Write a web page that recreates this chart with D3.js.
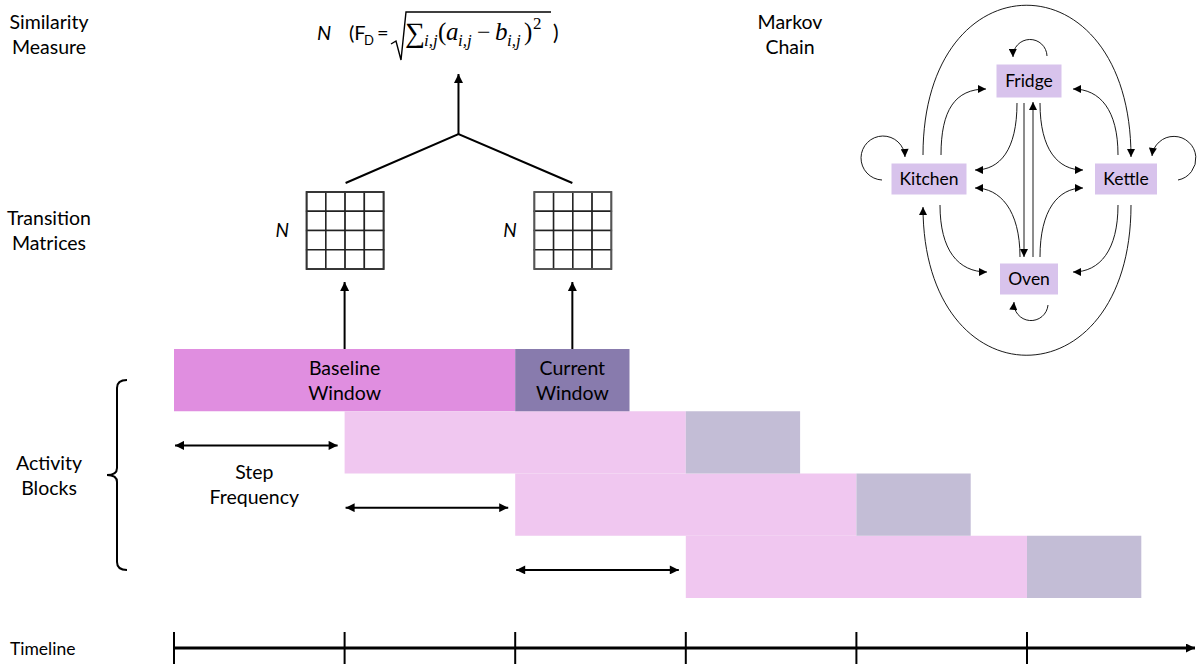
<!DOCTYPE html>
<html>
<head>
<meta charset="utf-8">
<script src="https://cdn.jsdelivr.net/npm/d3@7"></script>
<style>
  body { margin: 0; background: #fff; }
  text { font-family: Lato, "Open Sans", sans-serif; fill: #000; }
</style>
</head>
<body>
<div id="chart"></div>
<script>
// ---- data ----
const timelineSteps = [0, 1, 2, 3, 4, 5];
const blockRows = [0, 1, 2, 3];          // row i starts at step i
const baselineSpan = 2;                   // steps
const currentSpan = 0.67;                 // steps
const stepArrowRows = [1, 2, 3];
const sideLabels = [
  { lines: ["Similarity", "Measure"], y: 29 },
  { lines: ["Transition", "Matrices"], y: 225 },
  { lines: ["Activity", "Blocks"], y: 470 }
];
const matrixCells = 4;
const states = ["Fridge", "Kitchen", "Kettle", "Oven"];
const transitions = [
  ["Fridge", "Fridge"], ["Kitchen", "Kitchen"], ["Kettle", "Kettle"], ["Oven", "Oven"],
  ["Kitchen", "Fridge"], ["Kettle", "Fridge"], ["Fridge", "Kitchen"], ["Fridge", "Kettle"],
  ["Oven", "Kitchen"], ["Oven", "Kettle"], ["Kitchen", "Oven"], ["Kettle", "Oven"],
  ["Fridge", "Oven"], ["Oven", "Fridge"], ["Kitchen", "Kettle"], ["Kettle", "Kitchen"]
];

const width = 1199, height = 664;
const svg = d3.select("#chart").append("svg")
    .attr("width", width)
    .attr("height", height);

// arrow heads
const defs = svg.append("defs");
defs.append("marker").attr("id", "head")
    .attr("markerUnits", "userSpaceOnUse")
    .attr("viewBox", "0 0 10 10").attr("refX", 10).attr("refY", 5)
    .attr("markerWidth", 10).attr("markerHeight", 9).attr("orient", "auto-start-reverse")
  .append("path").attr("d", "M0,0 L10,5 L0,10 Z").attr("fill", "#000");
defs.append("marker").attr("id", "small")
    .attr("markerUnits", "userSpaceOnUse")
    .attr("viewBox", "0 0 10 10").attr("refX", 10).attr("refY", 5)
    .attr("markerWidth", 9).attr("markerHeight", 8).attr("orient", "auto")
  .append("path").attr("d", "M0,0 L10,5 L0,10 Z").attr("fill", "#000");

// scales
const x = d3.scaleLinear().domain([0, 5]).range([174, 1027]);
const row = d3.scaleBand().domain(blockRows).range([349, 598]);

// side labels
sideLabels.forEach(d => {
  svg.append("text").attr("text-anchor", "middle").attr("font-size", 19.5)
    .selectAll("tspan").data(d.lines).join("tspan")
      .attr("x", 49).attr("y", (l, i) => d.y + i * 25).text(l => l);
});
svg.append("text").attr("text-anchor", "middle").attr("font-size", 19.5)
  .selectAll("tspan").data(["Markov", "Chain"]).join("tspan")
    .attr("x", 790).attr("y", (l, i) => 29 + i * 25).text(l => l);
svg.append("text").attr("x", 10).attr("y", 655).attr("font-size", 17.5).text("Timeline");

// ---- activity blocks ----
const blocks = svg.append("g");
blocks.selectAll("rect.base").data(blockRows).join("rect")
    .attr("class", "base")
    .attr("x", d => x(d)).attr("y", d => row(d))
    .attr("width", x(baselineSpan) - x(0)).attr("height", row.bandwidth())
    .attr("fill", d => d === 0 ? "#e08ee0" : "#f0c7f0");
blocks.selectAll("rect.cur").data(blockRows).join("rect")
    .attr("class", "cur")
    .attr("x", d => x(d + baselineSpan)).attr("y", d => row(d))
    .attr("width", x(currentSpan) - x(0)).attr("height", row.bandwidth())
    .attr("fill", d => d === 0 ? "#887bad" : "#c3bdd6");

const first = row(0) + row.bandwidth() / 2;
[["Baseline", "Window", x(1)], ["Current", "Window", x(baselineSpan) + (x(currentSpan) - x(0)) / 2]].forEach(t => {
  svg.append("text").attr("text-anchor", "middle").attr("font-size", 19.5)
    .selectAll("tspan").data([t[0], t[1]]).join("tspan")
      .attr("x", t[2]).attr("y", (l, i) => first - 5 + i * 25).text(l => l);
});

// step frequency arrows
svg.selectAll("line.step").data(stepArrowRows).join("line")
    .attr("class", "step")
    .attr("x1", d => x(d - 1) + 1).attr("x2", d => x(d) - 7)
    .attr("y1", d => row(d) + row.bandwidth() / 2 + 3)
    .attr("y2", d => row(d) + row.bandwidth() / 2 + 3)
    .attr("stroke", "#000").attr("stroke-width", 2)
    .attr("marker-start", "url(#head)").attr("marker-end", "url(#head)");
svg.append("text").attr("text-anchor", "middle").attr("font-size", 19.5)
  .selectAll("tspan").data(["Step", "Frequency"]).join("tspan")
    .attr("x", (x(0) + x(1)) / 2 - 5).attr("y", (l, i) => 479 + i * 25).text(l => l);

// brace
svg.append("path")
    .attr("d", "M127,380 Q117,380 117,388 L117,468 Q117,475 107,475 Q117,475 117,482 L117,562 Q117,570 127,570")
    .attr("fill", "none").attr("stroke", "#000").attr("stroke-width", 2);

// ---- transition matrices ----
const matX = [x(1), x(baselineSpan) + (x(currentSpan) - x(0)) / 2];
const cell = d3.scaleBand().domain(d3.range(matrixCells)).range([0, 77]);
matX.forEach((cx, k) => {
  const g = svg.append("g").attr("transform", `translate(${cx - 38},192)`);
  g.selectAll("rect").data(d3.cross(d3.range(matrixCells), d3.range(matrixCells))).join("rect")
      .attr("x", d => cell(d[0])).attr("y", d => cell(d[1]))
      .attr("width", cell.bandwidth()).attr("height", cell.bandwidth())
      .attr("fill", "#fff").attr("stroke", "#222").attr("stroke-width", 1.5);
  g.append("rect").attr("width", 77).attr("height", 77)
      .attr("fill", "none").attr("stroke", k ? "#555" : "#333").attr("stroke-width", 1.8);
  svg.append("text").attr("x", cx - 69).attr("y", 237).attr("font-size", 19)
      .attr("font-style", "italic").text("N");
  // arrow up from block
  svg.append("line").attr("x1", cx).attr("x2", cx).attr("y1", row(0)).attr("y2", 282)
      .attr("stroke", "#000").attr("stroke-width", 2).attr("marker-end", "url(#head)");
});

// join to similarity measure
const joinX = (matX[0] + matX[1]) / 2;
svg.append("path")
    .attr("d", `M${matX[0] + 1},183 L${joinX},134 L${matX[1]},183`)
    .attr("fill", "none").attr("stroke", "#000").attr("stroke-width", 2);
svg.append("line").attr("x1", joinX).attr("x2", joinX).attr("y1", 134).attr("y2", 74)
    .attr("stroke", "#000").attr("stroke-width", 2).attr("marker-end", "url(#head)");

// formula  N  (F_D = sqrt(sum_{i,j}(a_{i,j} - b_{i,j})^2))
const f = svg.append("g");
const serif = "'Liberation Serif', 'DejaVu Serif', serif";
const pieces = [
  { t: "N", x: 317, y: 40, s: 20, it: true },
  { t: "(F", x: 349, y: 40, s: 20 },
  { t: "D", x: 364, y: 45, s: 13 },
  { t: "=", x: 377, y: 40, s: 20 },
  { t: "∑", x: 405, y: 42, s: 28, ff: serif },
  { t: "i,j", x: 424, y: 46, s: 17, it: true, ff: serif },
  { t: "(", x: 438, y: 40, s: 25, ff: serif },
  { t: "a", x: 446, y: 40, s: 25, it: true, ff: serif },
  { t: "i,j", x: 458, y: 46, s: 17, it: true, ff: serif },
  { t: "−", x: 477, y: 40, s: 24, ff: serif },
  { t: "b", x: 495, y: 40, s: 25, it: true, ff: serif },
  { t: "i,j", x: 507, y: 46, s: 17, it: true, ff: serif },
  { t: ")", x: 524, y: 40, s: 25, ff: serif },
  { t: "2", x: 533, y: 29, s: 17, ff: serif },
  { t: ")", x: 553, y: 40, s: 21 }
];
f.selectAll("text").data(pieces).join("text")
    .attr("x", d => d.x).attr("y", d => d.y).attr("font-size", d => d.s)
    .attr("font-style", d => d.it ? "italic" : "normal")
    .style("font-family", d => d.ff || null)
    .text(d => d.t);
f.append("path").attr("d", "M391,44 L396,41 L401,60 L406,12 L551,12")
    .attr("fill", "none").attr("stroke", "#000").attr("stroke-width", 1.4);

// ---- Markov chain ----
const pos = {
  Fridge: { x: 1029, y: 81, w: 65, h: 33 },
  Kitchen: { x: 929, y: 179, w: 75, h: 31 },
  Kettle: { x: 1126, y: 179, w: 62, h: 31 },
  Oven: { x: 1029, y: 279, w: 58, h: 31 }
};
const F = pos.Fridge, Ki = pos.Kitchen, Ke = pos.Kettle, O = pos.Oven;
function edgePath(a, b) {
  const k = a + ">" + b;
  switch (k) {
    case "Fridge>Fridge": return `M${F.x + 18},${F.y - 25} A17,17 0 1 0 ${F.x - 16},${F.y - 24}`;
    case "Kitchen>Kitchen": return `M${Ki.x - 47},${Ki.y + 1} A22,22 0 1 1 ${Ki.x - 24},${Ki.y - 22}`;
    case "Kettle>Kettle": return `M${Ke.x + 52},${Ke.y + 1} A22,22 0 1 0 ${Ke.x + 26},${Ke.y - 23}`;
    case "Oven>Oven": return `M${O.x + 19},${O.y + 26} A17,17 0 1 1 ${O.x - 15},${O.y + 23}`;
    case "Kitchen>Fridge": return `M${Ki.x + 12},${Ki.y - 24} C${Ki.x + 12},110 955,${F.y + 8} ${F.x - 43},${F.y + 8}`;
    case "Kettle>Fridge": return `M${Ke.x - 8},${Ke.y - 24} C${Ke.x - 8},110 1100,${F.y + 8} ${F.x + 44},${F.y + 8}`;
    case "Fridge>Kitchen": return `M${F.x - 12},${F.y + 22} C${F.x - 12},150 1000,${Ki.y - 9} ${Ki.x + 46},${Ki.y - 9}`;
    case "Fridge>Kettle": return `M${F.x + 11},${F.y + 22} C${F.x + 11},150 1058,${Ke.y - 9} ${Ke.x - 43},${Ke.y - 9}`;
    case "Oven>Kitchen": return `M${O.x - 9},${O.y - 22} C${O.x - 9},210 1000,${Ki.y + 9} ${Ki.x + 46},${Ki.y + 9}`;
    case "Oven>Kettle": return `M${O.x + 11},${O.y - 22} C${O.x + 11},210 1058,${Ke.y + 9} ${Ke.x - 43},${Ke.y + 9}`;
    case "Kitchen>Oven": return `M${Ki.x + 11},${Ki.y + 26} C${Ki.x + 11},250 958,${O.y - 7} ${O.x - 42},${O.y - 7}`;
    case "Kettle>Oven": return `M${Ke.x - 8},${Ke.y + 26} C${Ke.x - 8},250 1100,${O.y - 7} ${O.x + 44},${O.y - 7}`;
    case "Fridge>Oven": return `M${F.x - 5},${F.y + 22} L${F.x - 5},${O.y - 22}`;
    case "Oven>Fridge": return `M${O.x + 4},${O.y - 22} L${O.x + 4},${F.y + 21}`;
    case "Kitchen>Kettle": return `M${Ki.x - 6},${Ki.y - 24} C${Ki.x - 6},-45 ${Ke.x + 5},-45 ${Ke.x + 5},${Ke.y - 22}`;
    case "Kettle>Kitchen": return `M${Ke.x + 5},${Ke.y + 26} C${Ke.x + 5},405 ${Ki.x - 6},405 ${Ki.x - 6},${Ki.y + 28}`;
  }
}
svg.append("g").selectAll("path").data(transitions).join("path")
    .attr("d", d => edgePath(d[0], d[1]))
    .attr("fill", "none").attr("stroke", "#000").attr("stroke-width", 0.9)
    .attr("marker-end", "url(#small)");

const node = svg.append("g").selectAll("g").data(states).join("g")
    .attr("transform", d => `translate(${pos[d].x},${pos[d].y})`);
node.append("rect")
    .attr("x", d => -pos[d].w / 2).attr("y", d => -pos[d].h / 2)
    .attr("width", d => pos[d].w).attr("height", d => pos[d].h)
    .attr("fill", "#d8c3ec");
node.append("text").attr("text-anchor", "middle").attr("y", 6).attr("font-size", 17.5)
    .text(d => d);

// ---- timeline ----
svg.append("line").attr("x1", x(0)).attr("x2", 1195).attr("y1", 648).attr("y2", 648)
    .attr("stroke", "#000").attr("stroke-width", 3).attr("marker-end", "url(#head)");
svg.selectAll("line.tick").data(timelineSteps).join("line")
    .attr("class", "tick")
    .attr("x1", d => x(d)).attr("x2", d => x(d)).attr("y1", 632).attr("y2", 664)
    .attr("stroke", "#000").attr("stroke-width", 2);
</script>
</body>
</html>
